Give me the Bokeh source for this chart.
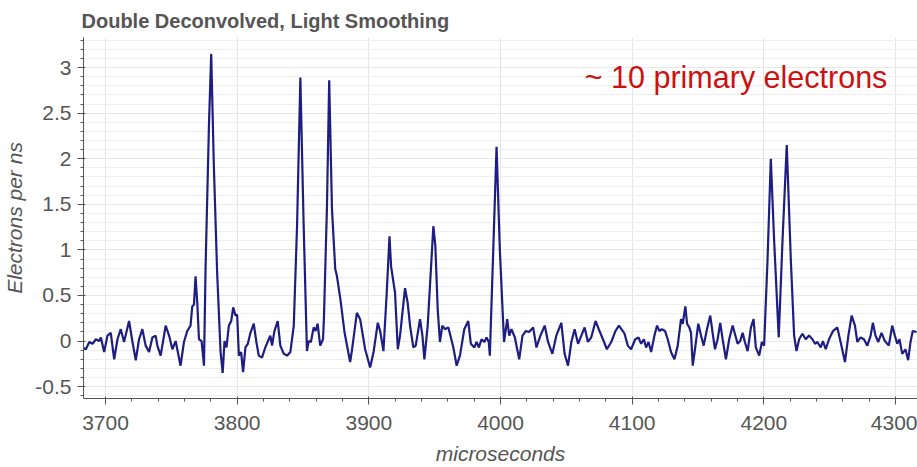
from bokeh.plotting import figure
from bokeh.models import Label, FixedTicker, NumeralTickFormatter, ColumnDataSource
from bokeh.embed import file_html
from bokeh.resources import INLINE

# ---- data ----
time_us = [
    3682.6, 3685.1, 3687.7, 3690.2, 3692.7, 3695.2, 3696.5, 3699.0, 3701.5, 3704.0,
    3706.6, 3709.1, 3711.6, 3714.1, 3717.9, 3720.5, 3723.0, 3725.5, 3728.0, 3730.5,
    3733.1, 3735.6, 3738.1, 3739.4, 3741.9, 3745.7, 3748.3, 3750.8, 3753.3, 3757.0,
    3759.6, 3762.1, 3764.6, 3765.9, 3767.2, 3768.4, 3769.7, 3771.0, 3773.0, 3774.8,
    3776.0, 3778.6, 3780.3, 3782.3, 3784.8, 3787.4, 3789.0, 3790.4, 3791.9, 3793.7,
    3795.5, 3797.0, 3798.7, 3800.0, 3801.3, 3803.0, 3804.5, 3806.3, 3808.1, 3810.1,
    3812.6, 3814.6, 3816.4, 3818.9, 3821.4, 3824.0, 3825.2, 3826.5, 3828.3, 3830.8,
    3832.8, 3835.4, 3837.9, 3840.4, 3843.0, 3845.5, 3848.0, 3850.5, 3853.0, 3854.3,
    3856.0, 3858.1, 3859.6, 3861.1, 3863.1, 3865.2, 3865.9, 3868.2, 3869.9, 3872.0,
    3874.5, 3875.8, 3878.5, 3881.5, 3885.8, 3887.1, 3890.9, 3893.4, 3897.2, 3901.0,
    3903.6, 3906.8, 3908.6, 3911.1, 3913.6, 3915.7, 3916.9, 3919.9, 3922.0, 3923.7,
    3927.5, 3929.5, 3931.3, 3933.8, 3935.6, 3938.9, 3940.7, 3942.2, 3944.7, 3947.0,
    3949.0, 3950.5, 3952.3, 3954.0, 3955.8, 3957.8, 3960.4, 3962.3, 3964.2, 3966.7,
    3969.2, 3972.5, 3975.5, 3977.5, 3980.1, 3981.8, 3983.6, 3985.6, 3987.7, 3989.4,
    3991.1, 3991.9, 3994.5, 3997.0, 3999.5, 4002.7, 4005.1, 4006.6, 4008.3, 4010.9,
    4014.2, 4016.7, 4019.2, 4021.7, 4024.8, 4027.3, 4030.3, 4033.6, 4036.1, 4039.4,
    4042.4, 4046.2, 4048.7, 4051.3, 4053.8, 4056.3, 4058.9, 4061.4, 4063.9, 4066.4,
    4068.9, 4072.2, 4075.2, 4077.8, 4080.8, 4084.1, 4087.3, 4089.9, 4092.9, 4094.2,
    4096.7, 4099.2, 4102.3, 4104.8, 4106.8, 4108.9, 4110.6, 4112.4, 4114.4, 4116.9,
    4118.9, 4120.7, 4122.5, 4125.0, 4127.0, 4129.5, 4132.1, 4134.6, 4137.1, 4138.4,
    4140.4, 4141.7, 4143.4, 4144.7, 4146.0, 4147.7, 4150.2, 4152.3, 4154.3, 4156.8,
    4159.3, 4161.1, 4162.9, 4164.9, 4166.9, 4168.7, 4171.2, 4173.7, 4176.3, 4178.0,
    4180.1, 4182.0, 4183.9, 4185.6, 4187.7, 4190.2, 4192.2, 4193.9, 4196.5, 4198.5,
    4200.2, 4202.8, 4205.3, 4207.8, 4211.3, 4214.2, 4217.4, 4220.5, 4223.0, 4224.8,
    4226.8, 4229.3, 4231.8, 4234.3, 4236.9, 4238.9, 4240.7, 4243.2, 4244.9, 4247.0,
    4249.5, 4252.5, 4255.8, 4258.3, 4261.6, 4264.2, 4266.7, 4269.2, 4271.0, 4273.5,
    4276.0, 4278.6, 4281.1, 4282.8, 4284.8, 4286.9, 4289.4, 4291.9, 4294.9, 4297.5,
    4299.5, 4301.3, 4303.0, 4305.1, 4307.6, 4309.6, 4311.4, 4313.1, 4316.0,
]
electrons_per_ns = [
    -0.07, -0.09, -0.01, -0.03, 0.02, 0.00, 0.04, -0.12, 0.06, 0.09,
    -0.20, 0.02, 0.13, -0.01, 0.22, -0.01, -0.21, 0.02, 0.13, -0.05,
    -0.12, 0.04, 0.06, -0.05, -0.16, 0.17, 0.06, -0.09, 0.00, -0.27,
    -0.01, 0.11, 0.17, 0.38, 0.40, 0.71, 0.42, 0.02, 0.00, -0.27,
    0.80, 2.38, 3.15, 1.92, 0.75, -0.12, -0.35, 0.00, -0.07, 0.17,
    0.22, 0.37, 0.28, 0.29, -0.16, -0.12, -0.34, -0.07, -0.03, 0.09,
    0.19, -0.01, -0.16, -0.18, -0.07, 0.02, 0.06, -0.05, 0.11, 0.22,
    -0.05, -0.14, -0.16, -0.12, 0.17, 1.27, 2.89, 1.27, -0.11, 0.00,
    -0.01, 0.15, 0.11, 0.19, -0.05, 0.02, 0.25, 1.47, 2.86, 1.45,
    0.79, 0.71, 0.45, 0.10, -0.23, -0.11, 0.31, 0.24, -0.09, -0.29,
    -0.12, 0.20, 0.11, -0.11, 0.53, 1.15, 0.82, 0.53, -0.09, 0.06,
    0.58, 0.42, 0.17, -0.07, -0.05, 0.24, 0.06, -0.20, 0.17, 0.75,
    1.26, 1.05, 0.35, -0.01, 0.17, 0.13, 0.15, 0.04, -0.07, -0.27,
    -0.16, 0.13, 0.22, -0.03, -0.07, -0.01, -0.07, 0.02, -0.01, 0.04,
    -0.01, -0.16, 1.00, 2.13, 1.00, -0.01, 0.24, 0.06, 0.13, 0.04,
    -0.20, 0.06, 0.11, 0.10, 0.15, -0.07, 0.06, 0.17, -0.01, -0.14,
    0.06, 0.20, -0.14, -0.27, -0.01, 0.13, -0.03, 0.06, 0.15, -0.01,
    0.04, 0.22, 0.11, 0.02, -0.09, -0.01, 0.11, 0.17, 0.11, 0.08,
    -0.05, -0.09, 0.02, 0.04, -0.03, 0.02, -0.07, -0.01, -0.12, 0.06,
    0.17, 0.11, 0.13, 0.11, 0.02, -0.12, -0.20, -0.05, 0.24, 0.19,
    0.38, 0.19, 0.15, 0.09, -0.27, -0.09, 0.19, 0.06, -0.05, 0.13,
    0.28, 0.09, -0.09, 0.02, 0.20, 0.02, -0.20, 0.02, 0.17, 0.08,
    -0.03, 0.00, 0.09, -0.01, -0.11, 0.15, 0.24, -0.07, -0.16, -0.01,
    -0.05, 0.89, 2.00, 1.11, 0.04, 1.11, 2.15, 0.89, 0.06, -0.11,
    0.02, 0.08, 0.02, 0.06, 0.02, -0.03, -0.01, -0.07, 0.00, -0.09,
    0.02, 0.11, 0.15, -0.01, -0.23, 0.06, 0.28, 0.17, -0.01, 0.04,
    0.02, -0.05, 0.06, 0.20, 0.06, -0.01, 0.09, 0.00, -0.05, 0.17,
    0.06, -0.03, 0.02, -0.14, -0.09, -0.21, -0.01, 0.11, 0.10,
]
x_major_ticks = [3700, 3800, 3900, 4000, 4100, 4200, 4300]
y_major_ticks = [-0.5, 0, 0.5, 1, 1.5, 2, 2.5, 3]
x_minor_ticks = [3680 + 20 * i for i in range(33)]
y_minor_ticks = [round(-0.6 + 0.1 * i, 1) for i in range(40)]
title_text = "Double Deconvolved, Light Smoothing"
note_text = "~ 10 primary electrons"
note_x = 4064
note_y = 2.9

FONT = "Liberation Sans"
GRAY = "#555555"

p = figure(
    width=917, height=467,
    x_range=(3683.3, 4316.7), y_range=(-0.63, 3.33),
    output_backend="svg", toolbar_location=None,
    title=title_text,
    min_border_left=81, min_border_right=0, min_border_top=37, min_border_bottom=67,
)
p.outline_line_color = None
p.background_fill_color = "white"
p.border_fill_color = "white"

p.title.text_font = FONT
p.title.text_font_size = "20px"
p.title.text_font_style = "bold"
p.title.text_color = GRAY
p.title.offset = -2
p.title.standoff = 8
p.title.vertical_align = "top"

src = ColumnDataSource(dict(t=time_us, e=electrons_per_ns))
p.line("t", "e", source=src, line_color="#1d1d82", line_width=2.2)

p.xaxis.ticker = FixedTicker(ticks=x_major_ticks, minor_ticks=x_minor_ticks)
p.yaxis.ticker = FixedTicker(ticks=y_major_ticks, minor_ticks=y_minor_ticks)
p.yaxis.formatter = NumeralTickFormatter(format="0.[0]")

for ax in (p.xaxis[0], p.yaxis[0]):
    ax.axis_line_color = GRAY
    ax.major_tick_line_color = GRAY
    ax.minor_tick_line_color = GRAY
    ax.major_tick_out = 6
    ax.major_tick_in = 2
    ax.minor_tick_out = 3
    ax.minor_tick_in = 0
    ax.major_label_text_font = FONT
    ax.major_label_text_font_size = "21px"
    ax.major_label_text_color = GRAY
    ax.axis_label_text_font = FONT
    ax.axis_label_text_font_size = "21px"
    ax.axis_label_text_font_style = "italic"
    ax.axis_label_text_color = GRAY

p.xaxis.axis_label = "microseconds"
p.yaxis.axis_label = "Electrons per ns"
p.xaxis.major_label_standoff = 11
p.yaxis.major_label_standoff = 6
p.xaxis.axis_label_standoff = 9
p.yaxis.axis_label_standoff = 6

p.xgrid.grid_line_color = "#e4e4e4"
p.xgrid.minor_grid_line_color = None
p.ygrid.grid_line_color = "#e8e8e8"
p.ygrid.minor_grid_line_color = "#eeeeee"

p.add_layout(Label(x=note_x, y=note_y, text=note_text, text_font=FONT,
                   text_font_size="30.5px", text_color="#cc1111",
                   text_baseline="alphabetic", text_align="left"))

open("out.html", "w").write(file_html(p, INLINE))
